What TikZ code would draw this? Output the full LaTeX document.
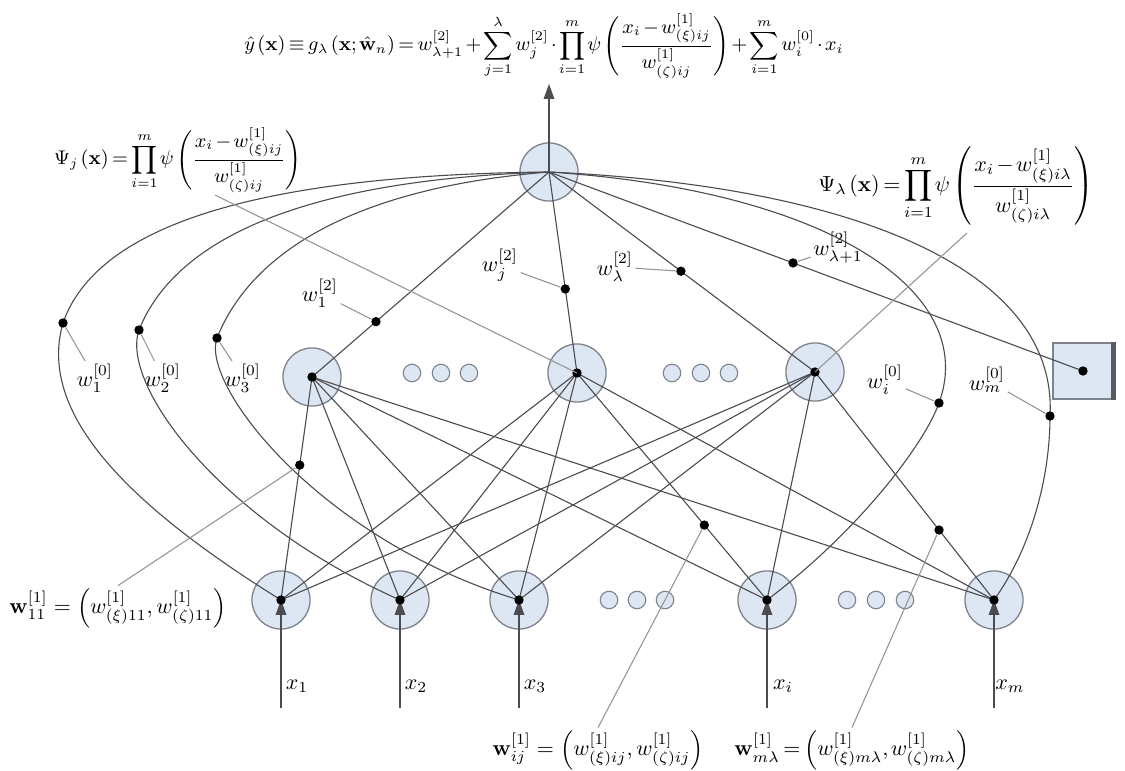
\documentclass[tikz,border=0pt]{standalone}
\usepackage{amsmath}
\usepackage{tikz}
\usetikzlibrary{positioning,arrows.meta,calc}
\definecolor{ink}{RGB}{75,75,80}
\definecolor{cUnit}{RGB}{221,231,243}
\definecolor{rim}{RGB}{125,130,140}
\definecolor{lead}{RGB}{150,150,150}
\newcommand{\tightmath}{\thinmuskip=2mu\medmuskip=2mu\thickmuskip=3mu}

\begin{document}
\begin{tikzpicture}[
  x=0.016cm, y=-0.016cm,
  >={Triangle[length=2.4mm, width=1.7mm]},
  unit/.style={circle, draw=rim, line width=0.6pt, fill=cUnit, minimum size=0.93cm, inner sep=0pt},
  tiny/.style={circle, draw=rim, line width=0.5pt, fill=cUnit, minimum size=0.28cm, inner sep=0pt},
  wdot/.style={circle, fill=black, minimum size=1.5mm, inner sep=0pt},
  link/.style={draw=ink, line width=0.5pt},
  leader/.style={draw=lead, line width=0.5pt},
  lbl/.style={inner sep=1pt},
]
\useasboundingbox (0,0) rectangle (1125,771);

% ---- formulas ----
\node[lbl, font=\fontsize{9pt}{11pt}\selectfont] (F) at (544,46) {$\tightmath\displaystyle \hat{y}\left(\mathbf{x}\right)\equiv g_{\lambda}\left(\mathbf{x};\hat{\mathbf{w}}_{n}\right)=w^{[2]}_{\lambda+1}+\sum_{j=1}^{\lambda}w^{[2]}_{j}\cdot\prod_{i=1}^{m}\psi\left(\frac{x_i-w^{[1]}_{(\xi)ij}}{w^{[1]}_{(\zeta)ij}}\right)+\sum_{i=1}^{m}w^{[0]}_{i}\cdot x_i$};
\node[lbl, font=\small] (PsiJ) at (178,160) {$\tightmath\displaystyle \Psi_{j}\left(\mathbf{x}\right)=\prod_{i=1}^{m}\psi\left(\frac{x_i-w^{[1]}_{(\xi)ij}}{w^{[1]}_{(\zeta)ij}}\right)$};
\node[lbl] (PsiL) at (956,186) {$\tightmath\displaystyle \Psi_{\lambda}\left(\mathbf{x}\right)=\prod_{i=1}^{m}\psi\left(\frac{x_i-w^{[1]}_{(\xi)i\lambda}}{w^{[1]}_{(\zeta)i\lambda}}\right)$};
\node[lbl] (W11) at (118,608) {$\mathbf{w}^{[1]}_{11}=\left(w^{[1]}_{(\xi)11},w^{[1]}_{(\zeta)11}\right)$};
\node[lbl] (Wij) at (598,750) {$\mathbf{w}^{[1]}_{ij}=\left(w^{[1]}_{(\xi)ij},w^{[1]}_{(\zeta)ij}\right)$};
\node[lbl] (Wml) at (852,750) {$\tightmath\mathbf{w}^{[1]}_{m\lambda}=\left(w^{[1]}_{(\xi)m\lambda},w^{[1]}_{(\zeta)m\lambda}\right)$};

% ---- units ----
\node[unit] (O) at (549,172) {};
\node[unit] (H1) at (312,377) {};
\node[unit] (Hj) at (577,373) {};
\node[unit] (Hl) at (815,372) {};
\node[draw=rim, fill=cUnit, line width=0.6pt, minimum width=0.96cm, minimum height=0.9cm] (B) at (1083,371) {};
\draw[line width=2pt, rim!70!black] (B.north east) -- (B.south east);
\foreach \n/\x in {1/281, 2/400, 3/519, i/767, m/994}
  \node[unit] (I\n) at (\x,600) {};
\foreach \x in {412,441,469,672,701,729}
  \node[tiny] (h\x) at (\x,373) {};
\foreach \x in {609,637,665,847,876,905}
  \node[tiny] (i\x) at (\x,600) {};

% ---- inputs ----
\foreach \n/\x in {1/281, 2/400, 3/519, i/767, m/994} {
  \coordinate (b\n) at (\x,708);
  \draw[link, ->] (b\n) -- (I\n.center);
  \node[lbl] (x\n) at (\x+16,686) {$x_{\n}$};
}

% ---- input -> hidden ----
\foreach \h in {H1,Hj,Hl}
  \foreach \n in {1,2,3,i,m}
    \draw[link] (\h.center) -- (I\n.center);

% ---- hidden -> output ----
\draw[link] (H1.center) -- (O.center) coordinate[pos=0.27] (p21);
\draw[link] (Hj.center) -- (O.center) coordinate[pos=0.418] (p2j);
\draw[link] (Hl.center) -- (O.center) coordinate[pos=0.504] (p2l);
\draw[link] (O.center) -- (B.center) coordinate[pos=0.457] (p2b);
\coordinate (yout) at (549,84);
\draw[link, ->] (O.center) -- (yout);

% ---- direct input -> output ----
\coordinate (p01) at (63,323);
\coordinate (p02) at (139,330);
\coordinate (p03) at (217,338);
\coordinate (p0i) at (939,403);
\coordinate (p0m) at (1050,416);
\draw[link] (O.center) .. controls (250,175) and (96,228) .. (p01) .. controls (38,410) and (120,500) .. (I1.center);
\draw[link] (O.center) .. controls (300,180) and (175,240) .. (p02) .. controls (120,385) and (220,520) .. (I2.center);
\draw[link] (O.center) .. controls (350,188) and (250,255) .. (p03) .. controls (200,385) and (320,540) .. (I3.center);
\draw[link] (O.center) .. controls (825,190) and (980,290) .. (p0i) .. controls (925,443) and (860,530) .. (Ii.center);
\draw[link] (O.center) .. controls (855,186) and (1058,270) .. (p0m) .. controls (1050,480) and (1030,550) .. (Im.center);

% ---- weights on input -> hidden ----
\path (H1.center) -- (I1.center) coordinate[pos=0.395] (p11);
\path (Hj.center) -- (Ii.center) coordinate[pos=0.67] (pij);
\path (Hl.center) -- (Im.center) coordinate[pos=0.693] (pml);

% ---- dots ----
\foreach \p in {01,02,03,0i,0m,21,2j,2l,2b,11,ij,ml}
  \node[wdot] (d\p) at (p\p) {};
\foreach \u in {H1,Hj,Hl,B,I1,I2,I3,Ii,Im}
  \node[wdot] (c\u) at (\u.center) {};

% ---- weight labels ----
\node[lbl] (l01) at (95,378) {$w^{[0]}_{1}$};
\node[lbl] (l02) at (163,378) {$w^{[0]}_{2}$};
\node[lbl] (l03) at (243,378) {$w^{[0]}_{3}$};
\node[lbl] (l0i) at (885,380) {$w^{[0]}_{i}$};
\node[lbl] (l0m) at (987,380) {$w^{[0]}_{m}$};
\node[lbl] (l21) at (320,293) {$w^{[2]}_{1}$};
\node[lbl] (l2j) at (500,265) {$w^{[2]}_{j}$};
\node[lbl] (l2l) at (615,267) {$w^{[2]}_{\lambda}$};
\node[lbl] (l2b) at (838,248) {$w^{[2]}_{\lambda+1}$};

% ---- leaders ----
\foreach \p in {01,02,03,0i,0m,21,2j,2l,2b}
  \draw[leader] (l\p) -- (d\p);
\draw[leader] (W11.north) -- (d11);
\draw[leader] (Wij.north) -- (dij);
\draw[leader] (Wml.north) -- (dml);
\coordinate (psijfoot) at (215,195);
\coordinate (psilfoot) at (967,233);
\draw[leader] (psijfoot) -- (Hj.center);
\draw[leader] (psilfoot) -- (Hl.center);

\end{tikzpicture}
\end{document}
